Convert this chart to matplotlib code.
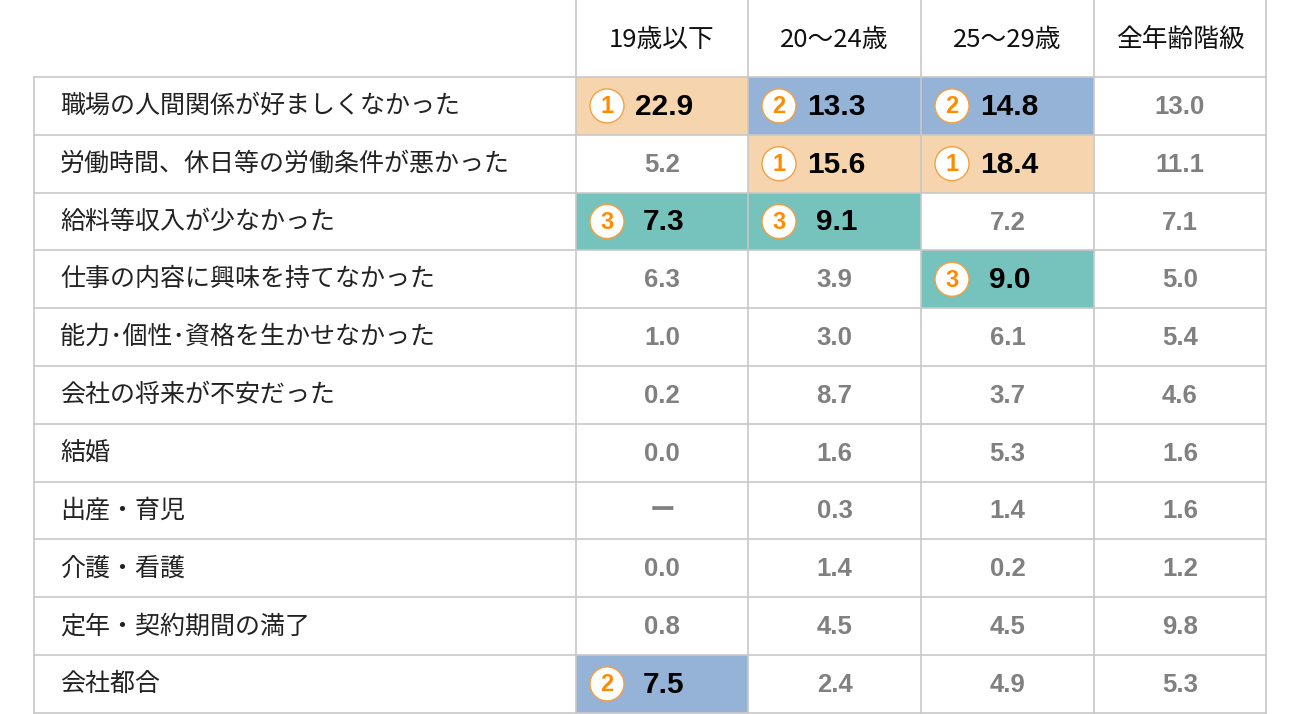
import matplotlib
matplotlib.use("Agg")
import matplotlib.pyplot as plt
from matplotlib.patches import Rectangle, Circle

columns = ["19歳以下", "20～24歳", "25～29歳", "全年齢階級"]
reasons = ["職場の人間関係が好ましくなかった", "労働時間、休日等の労働条件が悪かった",
           "給料等収入が少なかった", "仕事の内容に興味を持てなかった",
           "能力･個性･資格を生かせなかった", "会社の将来が不安だった", "結婚",
           "出産・育児", "介護・看護", "定年・契約期間の満了", "会社都合"]
v19 = ["22.9", "5.2", "7.3", "6.3", "1.0", "0.2", "0.0", "ー", "0.0", "0.8", "7.5"]
v20 = ["13.3", "15.6", "9.1", "3.9", "3.0", "8.7", "1.6", "0.3", "1.4", "4.5", "2.4"]
v25 = ["14.8", "18.4", "7.2", "9.0", "6.1", "3.7", "5.3", "1.4", "0.2", "4.5", "4.9"]
vall = ["13.0", "11.1", "7.1", "5.0", "5.4", "4.6", "1.6", "1.6", "1.2", "9.8", "5.3"]
# rank (1-3) highlighted in the age columns; 0 = none
r19 = [1, 0, 3, 0, 0, 0, 0, 0, 0, 0, 2]
r20 = [2, 1, 3, 0, 0, 0, 0, 0, 0, 0, 0]
r25 = [2, 1, 0, 3, 0, 0, 0, 0, 0, 0, 0]

values = [v19, v20, v25, vall]
ranks = [r19, r20, r25, [0] * len(reasons)]
rank_colors = {1: "#F6D5AE", 2: "#95B3D7", 3: "#76C2BC"}

W, H = 1300, 714
fig = plt.figure(figsize=(W / 100, H / 100), dpi=100)
ax = fig.add_axes([0, 0, 1, 1])
ax.set_xlim(0, W)
ax.set_ylim(H, 0)
ax.axis("off")

xs = [34, 576, 748, 921, 1094, 1266]
y0, rh = 77, 57.8
grid = "#C8C8C8"
jp = "Noto Sans CJK JP"
num = "Liberation Sans"

# header
for j, c in enumerate(columns):
    ax.text((xs[j + 1] + xs[j + 2]) / 2, 40, c, ha="center", va="center",
            fontsize=18.5, fontfamily=jp, color="#111111")

n = len(reasons)
for i, r in enumerate(reasons):
    top = y0 + i * rh
    cy = top + rh / 2
    ax.text(60, cy, r, ha="left", va="center", fontsize=18, fontfamily=jp, color="#222222")
    for j in range(4):
        left = xs[j + 1]
        w = xs[j + 2] - left
        rk = ranks[j][i]
        if rk:
            ax.add_patch(Rectangle((left, top), w, rh, facecolor=rank_colors[rk], edgecolor="none"))
            ax.add_patch(Circle((left + 31, cy), 17, facecolor="white", edgecolor="#F5A040", lw=1))
            ax.text(left + 31, cy + 1, str(rk), ha="center", va="center", fontsize=17,
                    fontweight="bold", fontfamily=num, color="#FF8C00")
            ax.text(left + w / 2 + 2, cy + 1, values[j][i], ha="center", va="center",
                    fontsize=21.5, fontweight="bold", fontfamily=num, color="black")
        else:
            ax.text(left + w / 2, cy + 1, values[j][i], ha="center", va="center",
                    fontsize=18.5, fontweight="bold", fontfamily=num if values[j][i] != "ー" else jp,
                    color="#808080")

bottom = y0 + n * rh
for k in range(n + 1):
    ax.plot([xs[0], xs[-1]], [y0 + k * rh] * 2, color=grid, lw=1.2)
ax.plot([xs[0]] * 2, [y0, bottom], color=grid, lw=1.2)
for x in xs[1:]:
    ax.plot([x, x], [0, bottom], color=grid, lw=1.2)

fig.savefig("out.png", dpi=100)
